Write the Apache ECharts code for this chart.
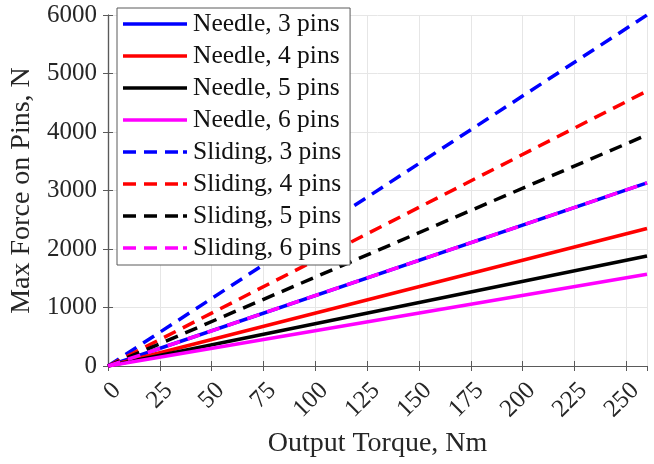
<!DOCTYPE html>
<html><head><meta charset="utf-8">
<script src="https://cdn.jsdelivr.net/npm/echarts@6/dist/echarts.min.js"></script>
<style>html,body{margin:0;padding:0;background:#fff}#c{width:654px;height:464px}</style>
</head><body><div id="c"></div>
<script>
const torque = [0, 260];
const seriesNames = ["Needle, 3 pins","Needle, 4 pins","Needle, 5 pins","Needle, 6 pins","Sliding, 3 pins","Sliding, 4 pins","Sliding, 5 pins","Sliding, 6 pins"];
const needle3 = [0, 3130];
const needle4 = [0, 2350];
const needle5 = [0, 1880];
const needle6 = [0, 1570];
const sliding3 = [0, 6000];
const sliding4 = [0, 4700];
const sliding5 = [0, 3950];
const sliding6 = [0, 3130];
const xTicks = [0,25,50,75,100,125,150,175,200,225,250];
const yTicks = [0,1000,2000,3000,4000,5000,6000];

const values = [needle3, needle4, needle5, needle6, sliding3, sliding4, sliding5, sliding6];
const colors = ['#0000ff','#ff0000','#000000','#ff00ff','#0000ff','#ff0000','#000000','#ff00ff'];
const font = '"Liberation Serif", "Times New Roman", serif';
const textCol = '#262626';
const axisCol = '#5a5a5a';
const solidIcon = 'path://M0,0h64v3.5h-64z';
const dashIcon = 'path://M0,0h13v3.5h-13z M21,0h13v3.5h-13z M42,0h13v3.5h-13z M60,0h4v3.5h-4z';

const series = values.map((v, i) => ({
  name: seriesNames[i],
  type: 'line',
  data: torque.map((t, j) => [t, v[j]]),
  symbol: 'none',
  animation: false,
  lineStyle: { color: colors[i], width: 3.5, type: i < 4 ? 'solid' : [13, 8] },
  itemStyle: { color: colors[i] }
}));

const chart = echarts.init(document.getElementById('c'));
chart.setOption({
  animation: false,
  grid: { left: 108, right: 7, top: 15, bottom: 98 },
  legend: {
    orient: 'vertical', left: 117, top: 8,
    data: seriesNames.map((n, i) => ({ name: n, icon: i < 4 ? solidIcon : dashIcon })),
    itemWidth: 64, itemHeight: 3.5, itemGap: 6,
    backgroundColor: '#fff', borderColor: axisCol, borderWidth: 1,
    padding: [3, 9, 4, 6],
    textStyle: { fontFamily: font, fontSize: 25.5, color: '#111', lineHeight: 26, padding: [0,0,0,1] }
  },
  xAxis: [{
    type: 'value', min: 0, max: 260, interval: 25,
    name: 'Output Torque, Nm', nameLocation: 'middle', nameGap: 60,
    nameTextStyle: { fontFamily: font, fontSize: 28, color: textCol, verticalAlign: 'top' },
    axisLine: { show: true, lineStyle: { color: axisCol, width: 1.2 } },
    axisTick: { inside: true, length: 5, lineStyle: { color: axisCol } },
    axisLabel: { rotate: 45, fontFamily: font, fontSize: 25, color: textCol, margin: 12, showMaxLabel: false,
      verticalAlign: 'top',
      formatter: v => xTicks.includes(v) ? String(v) : '' },
    splitLine: { show: true, lineStyle: { color: '#e6e6e6' } }
  }, {
    type: 'value', min: 0, max: 260, interval: 25, position: 'top',
    axisLine: { show: true, lineStyle: { color: axisCol, width: 1.2 } },
    axisTick: { inside: true, length: 5, lineStyle: { color: axisCol } },
    axisLabel: { show: false }, splitLine: { show: false }
  }],
  yAxis: [{
    type: 'value', min: 0, max: 6000, interval: 1000,
    name: 'Max Force on Pins, N', nameLocation: 'middle', nameGap: 70,
    nameTextStyle: { fontFamily: font, fontSize: 28, color: textCol },
    axisLine: { show: true, lineStyle: { color: axisCol, width: 1.2 } },
    axisTick: { inside: true, length: 5, lineStyle: { color: axisCol } },
    axisLabel: { fontFamily: font, fontSize: 25, color: textCol, margin: 11,
      formatter: v => yTicks.includes(v) ? String(v) : '' },
    splitLine: { show: true, lineStyle: { color: '#e6e6e6' } }
  }, {
    type: 'value', min: 0, max: 6000, interval: 1000, position: 'right',
    axisLine: { show: true, lineStyle: { color: axisCol, width: 1.2 } },
    axisTick: { inside: true, length: 5, lineStyle: { color: axisCol } },
    axisLabel: { show: false }, splitLine: { show: false }
  }],
  series: series
});
</script></body></html>
